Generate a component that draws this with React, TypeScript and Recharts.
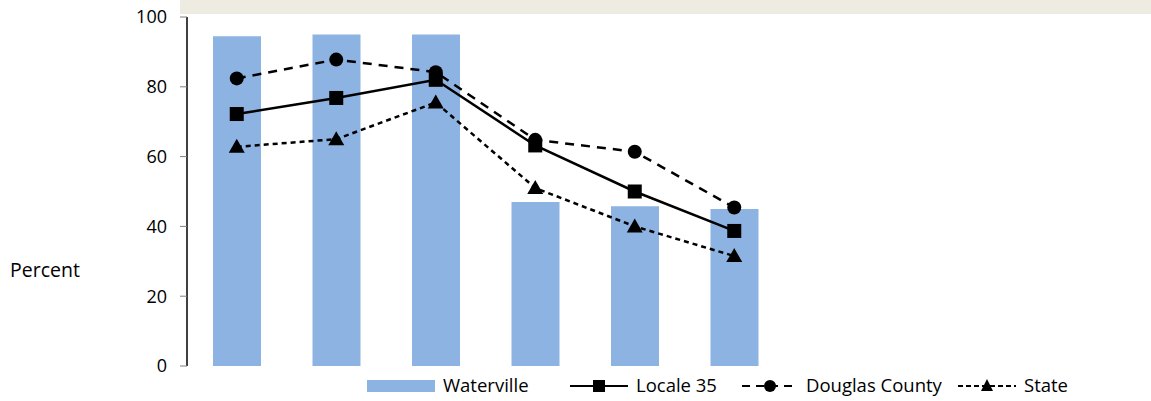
import { ComposedChart, Bar, Line, XAxis, YAxis, Legend } from "recharts"

// values
const grades = ["G1", "G2", "G3", "G4", "G5", "G6"]
const waterville = [94.5, 95, 95, 47, 45.8, 45]
const locale35 = [72.2, 76.8, 82, 63.2, 50, 38.7]
const douglasCounty = [82.4, 87.8, 84.2, 64.8, 61.4, 45.4]
const state = [62.8, 65, 75.5, 51, 40, 31.5]
const yTicks = [0, 20, 40, 60, 80, 100]

const data = grades.map((g, i) => ({
  grade: g,
  Waterville: waterville[i],
  "Locale 35": locale35[i],
  "Douglas County": douglasCounty[i],
  State: state[i],
}))

const FONT = "'Open Sans', sans-serif"
const BAR_COLOR = "#8DB3E2"

const SquareDot = (props: any) => {
  const { cx, cy } = props
  if (cx == null || cy == null) return null
  return <rect x={cx - 7} y={cy - 7} width={14} height={14} fill="#000" />
}

const CircleDot = (props: any) => {
  const { cx, cy } = props
  if (cx == null || cy == null) return null
  return <circle cx={cx} cy={cy} r={7} fill="#000" />
}

const TriangleDot = (props: any) => {
  const { cx, cy } = props
  if (cx == null || cy == null) return null
  return <polygon points={`${cx},${cy - 8} ${cx + 8},${cy + 6} ${cx - 8},${cy + 6}`} fill="#000" />
}

const legendLayout: Record<string, { x: number; line: number; dash?: string; marker: string }> = {
  Waterville: { x: 367, line: 68, marker: "bar" },
  "Locale 35": { x: 570, line: 58, marker: "square" },
  "Douglas County": { x: 742, line: 56, dash: "8 6", marker: "circle" },
  State: { x: 958, line: 58, dash: "5 3", marker: "triangle" },
}

const renderLegend = () => {
  const names = ["Waterville", "Locale 35", "Douglas County", "State"]
  return (
    <svg width={1151} height={30} style={{ display: "block", overflow: "visible" }}>
      {names.map((n) => {
        const l = legendLayout[n]
        const mid = l.x + l.line / 2
        return (
          <g key={n}>
            {l.marker === "bar" ? (
              <rect x={l.x} y={6} width={l.line} height={12} fill={BAR_COLOR} />
            ) : (
              <line x1={l.x} x2={l.x + l.line} y1={12} y2={12} stroke="#000" strokeWidth={2} strokeDasharray={l.dash} />
            )}
            {l.marker === "square" && <rect x={mid - 6} y={6} width={12} height={12} fill="#000" />}
            {l.marker === "circle" && <circle cx={mid} cy={12} r={6} fill="#000" />}
            {l.marker === "triangle" && (
              <polygon points={`${mid},${5} ${mid + 6},${17} ${mid - 6},${17}`} fill="#000" />
            )}
            <text x={l.x + l.line + 8} y={18} fontSize={18.5} fontFamily={FONT} fill="#000">
              {n}
            </text>
          </g>
        )
      })}
    </svg>
  )
}

export default function App() {
  return (
    <div style={{ position: "relative", width: 1151, height: 401, background: "#fff", fontFamily: FONT }}>
      <style>{`body { margin: 0; }`}</style>
      <div style={{ position: "absolute", left: 180, top: 0, width: 971, height: 14, background: "#EEEBE0" }} />
      <div style={{ position: "absolute", left: 10, top: 256, fontSize: 19.5, color: "#000" }}>Percent</div>
      <ComposedChart
        width={1151}
        height={401}
        data={data}
        margin={{ top: 17, right: 367, left: 127, bottom: 5 }}
        barSize={48}
      >
        <XAxis dataKey="grade" hide />
        <YAxis
          width={60}
          domain={[0, 100]}
          ticks={yTicks}
          axisLine={{ stroke: "#000", strokeWidth: 1.5 }}
          tickLine={{ stroke: "#808080" }}
          tickSize={7}
          tickMargin={13}
          tick={{ fontSize: 18, fill: "#000", fontFamily: FONT }}
        />
        <Legend content={renderLegend} wrapperStyle={{ position: "absolute", left: 0, top: 374, width: 1151 }} />
        <Bar dataKey="Waterville" fill={BAR_COLOR} isAnimationActive={false} />
        <Line
          dataKey="Douglas County"
          stroke="#000"
          strokeWidth={2.5}
          strokeDasharray="9 7"
          dot={<CircleDot />}
          isAnimationActive={false}
        />
        <Line
          dataKey="Locale 35"
          stroke="#000"
          strokeWidth={2.5}
          dot={<SquareDot />}
          isAnimationActive={false}
        />
        <Line
          dataKey="State"
          stroke="#000"
          strokeWidth={2.5}
          strokeDasharray="5 4"
          dot={<TriangleDot />}
          isAnimationActive={false}
        />
      </ComposedChart>
    </div>
  )
}
